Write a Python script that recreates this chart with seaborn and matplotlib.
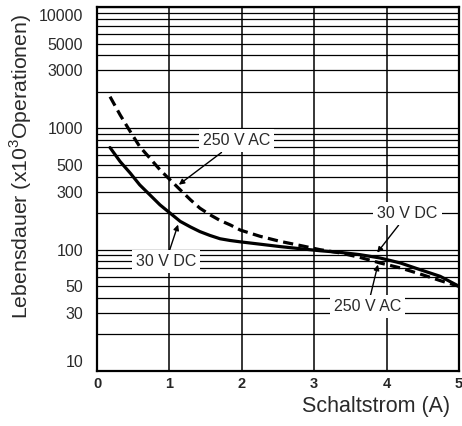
import matplotlib
matplotlib.use("Agg")
import matplotlib.pyplot as plt
import matplotlib.transforms as mtransforms
from matplotlib.ticker import LogLocator, FixedLocator, FixedFormatter, NullFormatter
import seaborn as sns
import pandas as pd

# ---- data ----
dc_current = [0.18, 0.32, 0.46, 0.59, 0.73, 0.87, 1.01, 1.15, 1.29, 1.42, 1.56, 1.70,
              1.84, 1.98, 2.25, 2.53, 2.80, 3.08, 3.36, 3.63, 3.91, 4.19, 4.46, 4.74, 5.0]
dc_life = [694, 532, 427, 342, 283, 234, 200, 171, 154, 141, 131, 123,
           119, 116, 111, 106, 102, 98, 95, 91, 85.4, 77.7, 68.5, 60.3, 49.9]

ac_current = [0.18, 0.32, 0.46, 0.59, 0.73, 0.87, 1.01, 1.15, 1.29, 1.42, 1.56, 1.70,
              1.84, 1.98, 2.25, 2.53, 2.80, 3.08, 3.36, 3.63, 3.91, 4.19, 4.46, 4.74, 5.0]
ac_life = [1823, 1289, 939, 707, 568, 455, 376, 311, 258, 220, 194, 174,
           160, 145, 129, 117, 108.5, 100, 94, 86.4, 77.7, 70.7, 63.1, 55.6, 49.9]

y_ticks = [10, 30, 50, 100, 300, 500, 1000, 3000, 5000, 10000]
y_tick_labels = ["10", "30", "50", "100", "300", "500", "1000", "3000", "5000", "10000"]
x_ticks = [0, 1, 2, 3, 4, 5]
x_tick_labels = ["0", "1", "2", "3", "4", "5"]

x_label = "Schaltstrom (A)"
y_label = "Lebensdauer (x10$^3$Operationen)"

# annotations: text, text position, arrow tip (data coords)
ann_text = ["250 V AC", "30 V DC", "30 V DC", "250 V AC"]
ann_xy_text = [(1.93, 787), (0.95, 79.6), (4.29, 198), (3.74, 34)]
ann_xy_tip = [(1.13, 343), (1.12, 161), (3.87, 94.5), (3.88, 75.3)]

sns.set_style("white")
plt.rcParams["font.family"] = ["Liberation Sans", "DejaVu Sans"]
plt.rcParams["mathtext.fontset"] = "custom"
plt.rcParams["mathtext.rm"] = "Liberation Sans"

fig = plt.figure(figsize=(4.62, 4.26), dpi=100)
ax = fig.add_axes([97 / 462, 1 - 371 / 426, 362 / 462, 364 / 426])

df_dc = pd.DataFrame({"I": dc_current, "L": dc_life})
df_ac = pd.DataFrame({"I": ac_current, "L": ac_life})

sns.lineplot(data=df_dc, x="I", y="L", ax=ax, color="black", lw=2.3, zorder=5, sort=False)
sns.lineplot(data=df_ac, x="I", y="L", ax=ax, color="black", lw=2.3, zorder=5, sort=False)
ax.lines[1].set_dashes((3.2, 1.7))
for ln in ax.lines:
    ln.set_solid_joinstyle("round")
    ln.set_dash_joinstyle("round")

ax.set_yscale("log")
ax.set_xlim(0, 5)
ax.set_ylim(10, 10000)

ax.yaxis.set_major_locator(FixedLocator(y_ticks))
ax.yaxis.set_major_formatter(FixedFormatter(y_tick_labels))
ax.yaxis.set_minor_locator(LogLocator(base=10, subs=[2, 3, 4, 5, 6, 7, 8, 9], numticks=20))
ax.yaxis.set_minor_formatter(NullFormatter())
ax.xaxis.set_major_locator(FixedLocator(x_ticks))
ax.xaxis.set_major_formatter(FixedFormatter(x_tick_labels))

ax.grid(True, which="both", axis="y", color="black", lw=0.9, zorder=1)
ax.grid(True, which="major", axis="x", color="black", lw=1.1, zorder=1)
ax.set_axisbelow(True)

ax.tick_params(axis="both", which="both", length=0)
ax.tick_params(axis="y", labelsize=11.5, pad=10, labelcolor="#2a2a2a")
ax.tick_params(axis="x", labelsize=10.5, pad=4)
for t in ax.get_xticklabels():
    t.set_fontweight("bold")

# nudge end labels inward as in the reference
yl = ax.get_yticklabels()
yl[0].set_transform(yl[0].get_transform() + mtransforms.ScaledTranslation(0, 10 / 100, fig.dpi_scale_trans))
yl[-1].set_transform(yl[-1].get_transform() + mtransforms.ScaledTranslation(0, -8 / 100, fig.dpi_scale_trans))

for s in ax.spines.values():
    s.set_visible(True)
    s.set_color("black")
    s.set_linewidth(1.6)

ax.set_xlabel(x_label, fontsize=15.5, color="#2a2a2a", ha="right")
ax.xaxis.set_label_coords(0.975, -0.068)
ax.set_ylabel(y_label, fontsize=15.3, color="#2a2a2a")
ax.yaxis.set_label_coords(-0.174, 0.563)

for txt, xyt, tip in zip(ann_text, ann_xy_text, ann_xy_tip):
    ax.annotate(txt, xy=tip, xytext=xyt, textcoords="data", ha="center", va="center",
                fontsize=11.5, color="#2a2a2a", zorder=6,
                bbox=dict(boxstyle="square,pad=0.25", fc="white", ec="none"),
                arrowprops=dict(arrowstyle="-|>", color="black", lw=1.0,
                                mutation_scale=8, shrinkA=0, shrinkB=0))

fig.savefig("out.png", dpi=100)
